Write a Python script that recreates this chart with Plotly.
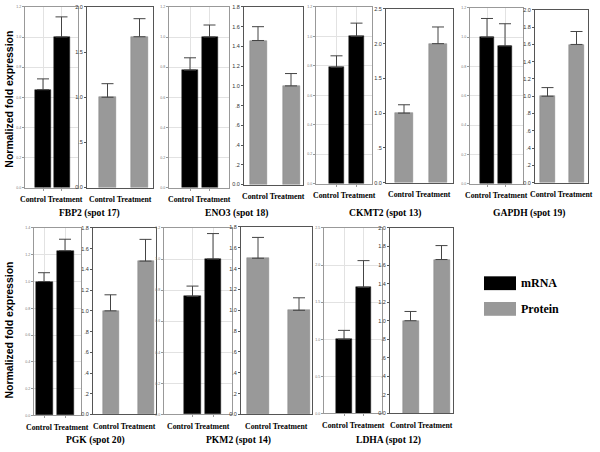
import plotly.graph_objects as go

# Data
categories = ["Control", "Treatment"]
genes = ["FBP2 (spot 17)", "ENO3 (spot 18)", "CKMT2 (spot 13)", "GAPDH (spot 19)",
         "PGK (spot 20)", "PKM2 (spot 14)", "LDHA (spot 12)"]

mrna_mean = [[0.65, 1.0], [0.78, 1.0], [0.79, 1.0], [1.0, 0.94],
             [1.0, 1.23], [0.76, 1.0], [1.0, 1.70]]
mrna_err = [[0.072, 0.134], [0.082, 0.08], [0.078, 0.09], [0.128, 0.152],
            [0.066, 0.086], [0.066, 0.164], [0.12, 0.36]]
protein_mean = [[1.0, 1.67], [1.46, 1.0], [1.0, 2.0], [1.0, 1.6],
                [1.0, 1.48], [1.5, 1.0], [1.0, 1.66]]
protein_err = [[0.15, 0.20], [0.14, 0.125], [0.12, 0.24], [0.10, 0.15],
               [0.155, 0.21], [0.20, 0.12], [0.10, 0.15]]

mrna_tick_max = [1.2, 1.2, 1.2, 1.2, 1.4, 1.2, 2.5]
mrna_tick_step = [0.2, 0.2, 0.2, 0.2, 0.2, 0.2, 0.5]
protein_tick_max = [2.0, 1.8, 2.5, 2.0, 1.8, 1.8, 2.0]
protein_tick_step = [0.5, 0.2, 0.5, 0.2, 0.2, 0.2, 0.2]

# panel geometry in pixels: x0, x1, y0, y1, bar centre 0, bar centre 1, bar width
mrna_box = [
    (25, 78, 4, 187, 43, 61.5, 16),
    (169, 229, 4, 187, 190, 209.5, 16),
    (316, 372, 4, 183, 336.5, 356.5, 15),
    (470, 523, 5, 183, 487, 505, 14),
    (34, 81, 228, 418, 44, 65, 17),
    (164, 232, 228, 417, 192.5, 213, 16.5),
    (324, 382, 228, 416, 344, 363.5, 15.5),
]
protein_box = [
    (87, 153, 4, 187, 107.5, 139.5, 17),
    (244, 303, 4, 184, 258, 291, 17),
    (386, 453, 6, 182, 404, 438, 17.5),
    (535, 588, 7, 182, 547.5, 576.5, 15),
    (93, 156, 228, 417, 110.5, 145.5, 16),
    (241, 312, 227, 417, 258, 299, 22),
    (390, 453, 228, 416, 410.5, 441.5, 16),
]

W, H = 600, 452
SERIF = "Times New Roman, Liberation Serif, DejaVu Serif, serif"
SANS = "Arial, Liberation Sans, sans-serif"


def fmt(v, strip):
    s = f"{v:.1f}"
    if strip and 0 < v < 1:
        s = s[1:]
    return s


fig = go.Figure()
layout = {}
annotations = []
n = 0


def add_panel(box, means, errs, tmax, tstep, color, is_mrna):
    global n
    n += 1
    x0, x1, y0, y1, c0, c1, w = box
    unit = c1 - c0
    xr = [-(c0 - x0) / unit, 1 + (x1 - c1) / unit]
    xa = "x" if n == 1 else f"x{n}"
    ya = "y" if n == 1 else f"y{n}"
    fig.add_trace(go.Bar(
        x=categories, y=means, xaxis=xa, yaxis=ya,
        width=w / unit,
        marker=dict(color=color, line=dict(color="#222" if is_mrna else "#808080", width=0.5)),
        error_y=dict(type="data", array=errs, arrayminus=[0, 0], symmetric=False,
                     color="#444", thickness=1, width=6),
        showlegend=False,
    ))
    nt = int(round(tmax / tstep))
    tv = [round(i * tstep, 3) for i in range(nt + 1)]
    line_col = "#999" if is_mrna else "#555"
    layout["xaxis" if n == 1 else f"xaxis{n}"] = dict(
        domain=[x0 / W, x1 / W], anchor=ya, type="category", range=xr,
        showline=True, mirror=True, linecolor=line_col, linewidth=1,
        showgrid=is_mrna, gridcolor="#e2e2e2", gridwidth=0.6,
        ticks="outside" if is_mrna else "", ticklen=2, tickcolor="#999",
        showticklabels=False, fixedrange=True,
    )
    layout["yaxis" if n == 1 else f"yaxis{n}"] = dict(
        domain=[1 - y1 / H, 1 - y0 / H], anchor=xa, range=[0, tmax],
        tickvals=tv, ticktext=[fmt(v, not is_mrna) for v in tv],
        showline=True, mirror=True, linecolor=line_col, linewidth=1,
        showgrid=is_mrna, gridcolor="#e2e2e2", gridwidth=0.6, zeroline=False,
        ticks="outside", ticklen=2, tickcolor=line_col,
        tickfont=dict(family=SANS, size=3.6 if is_mrna else 5.5,
                      color="#777" if is_mrna else "#333"),
        fixedrange=True,
    )
    # category labels under the panel, kept inside the page
    cx = min((x0 + x1) / 2, W - 34)
    annotations.append(dict(
        x=cx / W, y=1 - (y1 + 12) / H, xref="paper", yref="paper",
        text="<b>" + " ".join(categories) + "</b>", showarrow=False,
        xanchor="center", yanchor="middle",
        font=dict(family=SERIF, size=7.8, color="#000"),
    ))


for i in range(len(genes)):
    add_panel(mrna_box[i], mrna_mean[i], mrna_err[i], mrna_tick_max[i], mrna_tick_step[i], "#000000", True)
    add_panel(protein_box[i], protein_mean[i], protein_err[i], protein_tick_max[i], protein_tick_step[i], "#999999", False)
    gx = (mrna_box[i][0] + protein_box[i][1]) / 2
    gy = 213 if i < 4 else 443
    annotations.append(dict(
        x=gx / W, y=1 - gy / H, xref="paper", yref="paper", text=f"<b>{genes[i]}</b>",
        showarrow=False, xanchor="center", yanchor="middle",
        font=dict(family=SERIF, size=9.6, color="#000"),
    ))

# y axis titles
for yc in (98, 332):
    annotations.append(dict(
        x=9 / W, y=1 - yc / H, xref="paper", yref="paper",
        text="<b>Normalized fold expression</b>", textangle=-90, showarrow=False,
        xanchor="center", yanchor="middle", font=dict(family=SANS, size=10.5, color="#000"),
    ))

# legend
shapes = []
for label, col, yc in (("mRNA", "#000000", 284), ("Protein", "#999999", 310)):
    shapes.append(dict(type="rect", xref="paper", yref="paper",
                       x0=484 / W, x1=516 / W, y0=1 - (yc + 7) / H, y1=1 - (yc - 7) / H,
                       fillcolor=col, line=dict(width=0)))
    annotations.append(dict(
        x=519 / W, y=1 - yc / H, xref="paper", yref="paper", text=f"<b>{label}</b>",
        showarrow=False, xanchor="left", yanchor="middle",
        font=dict(family=SERIF, size=12, color="#000"),
    ))

fig.update_layout(
    width=W, height=H, margin=dict(l=0, r=0, t=0, b=0),
    paper_bgcolor="white", plot_bgcolor="white",
    annotations=annotations, shapes=shapes, bargap=0,
    **layout,
)

# drop the browser's default body margin so the figure sits at the page corner
fig.write_html("out.html", config={"displayModeBar": False},
               post_script="document.body.style.margin='0';")
